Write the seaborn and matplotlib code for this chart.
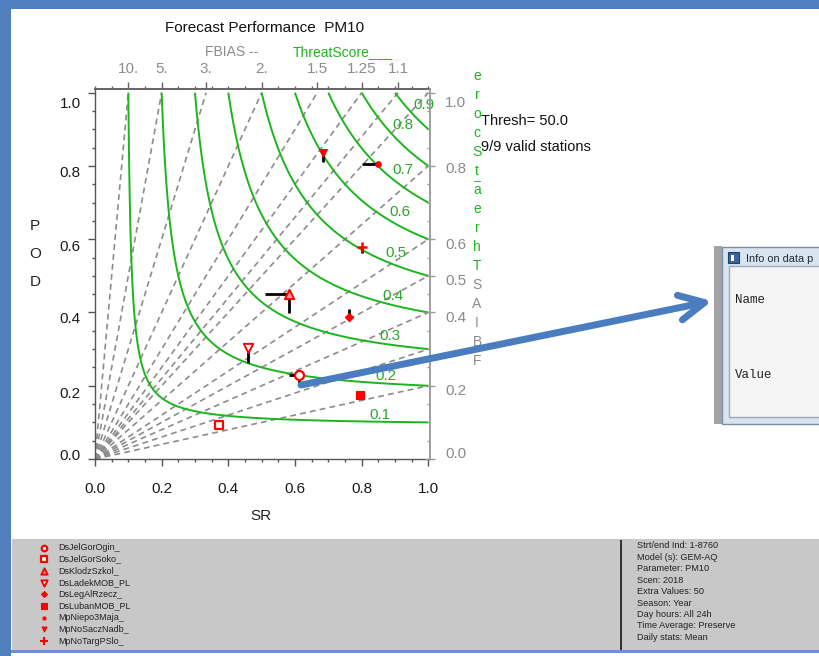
import numpy as np
import pandas as pd
import matplotlib
matplotlib.use("Agg")
import matplotlib.pyplot as plt
import seaborn as sns
from matplotlib.patches import Rectangle, FancyArrowPatch, ArrowStyle
from matplotlib.transforms import ScaledTranslation

sns.set_theme(style="white")
plt.rcParams['font.family'] = ['Liberation Sans', 'DejaVu Sans']

# ---------------- data ----------------
stations = ["DsJelGorOgin_", "DsJelGorSoko_", "DsKlodzSzkol_", "DsLadekMOB_PL",
            "DsLegAlRzecz_", "DsLubanMOB_PL", "MpNiepo3Maja_", "MpNoSaczNadb_",
            "MpNoTargPSlo_"]
sr = [0.613, 0.373, 0.583, 0.458, 0.761, 0.796, 0.849, 0.683, 0.801]
pod = [0.228, 0.093, 0.451, 0.302, 0.387, 0.175, 0.805, 0.835, 0.578]
# other ends of the black bars (None = no bar)
sr_bar_end = [0.581, None, 0.511, None, None, None, 0.800, None, None]
pod_bar_end = [0.198, None, 0.398, 0.261, 0.410, None, None, 0.810, 0.562]

csi_levels = [0.1, 0.2, 0.3, 0.4, 0.5, 0.6, 0.7, 0.8, 0.9]
csi_label_sr = [0.856, 0.874, 0.886, 0.895, 0.904, 0.916, 0.925, 0.925, 0.988]
csi_label_pod = [0.120, 0.227, 0.336, 0.445, 0.563, 0.675, 0.790, 0.913, 0.967]

bias_values = [0.2, 0.3, 0.4, 0.5, 0.6, 0.8, 1.0, 1.1, 1.25, 1.5, 2.0, 3.0, 5.0, 10.0]
top_bias_vals = [10.0, 5.0, 3.0, 2.0, 1.5, 1.25, 1.1]
top_bias_labels = ["10.", "5.", "3.", "2.", "1.5", "1.25", "1.1"]
right_bias_vals = [0.0, 0.2, 0.4, 0.5, 0.6, 0.8, 1.0]
right_bias_labels = ["0.0", "0.2", "0.4", "0.5", "0.6", "0.8", "1.0"]

info_lines = ["Strt/end Ind: 1-8760", "Model (s): GEM-AQ", "Parameter: PM10",
              "Scen: 2018", "Extra Values: 50", "Season: Year", "Day hours: All 24h",
              "Time Average: Preserve", "Daily stats: Mean"]

title = "Forecast Performance  PM10"
thresh_text = ["Thresh= 50.0", "9/9 valid stations"]

# marker styles per station: (marker, face, size_plot, size_legend, lw)
RED = "#ff0000"
marker_styles = {
    "DsJelGorOgin_": ("o", "white", 42, 16, 1.6),
    "DsJelGorSoko_": ("s", "white", 30, 16, 1.6),
    "DsKlodzSzkol_": ("^", "#ff9a9a", 45, 20, 1.4),
    "DsLadekMOB_PL": ("v", "white", 45, 20, 1.4),
    "DsLegAlRzecz_": ("D", RED, 18, 9, 0.8),
    "DsLubanMOB_PL": ("s", RED, 30, 14, 0.8),
    "MpNiepo3Maja_": ("o", RED, 16, 5, 0.8),
    "MpNoSaczNadb_": ("v", RED, 32, 12, 0.8),
    "MpNoTargPSlo_": ("+", RED, 60, 30, 1.8),
}

GREEN = "#1db51d"
GREEN_TXT = "#2aa62a"
GRAY = "#8c8c8c"
BLUE = "#4f7fbf"

# ---------------- figure ----------------
W, H = 819, 656
fig = plt.figure(figsize=(W / 100, H / 100), dpi=100)
fig.patch.set_facecolor("white")

bg = fig.add_axes([0, 0, 1, 1], zorder=-1)
bg.set_xlim(0, W)
bg.set_ylim(H, 0)
bg.axis("off")

# screenshot frame
bg.add_patch(Rectangle((0, 0), 11, H, color=BLUE, lw=0))
bg.add_patch(Rectangle((0, 0), W, 9, color=BLUE, lw=0))
bg.add_patch(Rectangle((12, 539), W - 12, 111, color="#c8c8c8", lw=0))
bg.add_patch(Rectangle((11, 650), W - 11, 2.5, color="#6d90c6", lw=0))
bg.add_patch(Rectangle((619.5, 540), 2, 110, color="#333333", lw=0))

# info dialog
bg.add_patch(Rectangle((714, 246), 8, 178, color="#a3a3a3", lw=0))
bg.add_patch(Rectangle((722, 247), 110, 177, facecolor="#d9e4f1", edgecolor="#7d8ea6", lw=1))
bg.add_patch(Rectangle((729, 266), 100, 151, facecolor="#f5f5f5", edgecolor="#a0aab8", lw=1))
bg.add_patch(Rectangle((728, 252), 11, 11, facecolor="#3b629e", edgecolor="#22406e", lw=0.8))
bg.add_patch(Rectangle((730.5, 254.5), 3, 6, facecolor="white", lw=0))
bg.text(746, 258.5, "Info on data p", fontsize=7.8, va="center", ha="left",
        color="#1e2a3a")
bg.text(735, 300, "Name", fontsize=9, va="center", ha="left", color="#222222",
        family=["Liberation Mono", "DejaVu Sans Mono"])
bg.text(735, 375, "Value", fontsize=9, va="center", ha="left", color="#222222",
        family=["Liberation Mono", "DejaVu Sans Mono"])

# texts
bg.text(265, 28, title, fontsize=11, ha="center", va="center", color="#111111")
bg.text(232, 52, "FBIAS --", fontsize=10, ha="center", va="center", color=GRAY)
bg.text(293, 52, "ThreatScore___", fontsize=10, ha="left", va="center", color=GREEN)
for i, ch in enumerate("POD"):
    bg.text(35, 226 + 28 * i, ch, fontsize=11, ha="center", va="center", color="#222222")
bg.text(261, 516, "SR", fontsize=11, ha="center", va="center", color="#222222")
for i, t in enumerate(thresh_text):
    bg.text(481, 121 + 26 * i, t, fontsize=10.5, ha="left", va="center", color="#111111")

side_green = "erocStaerhT"
side_gray = "SAIBF"
for i, ch in enumerate(side_green + side_gray):
    col = GREEN if i < len(side_green) else "#8a8a8a"
    bg.text(477, 76 + 19 * i, ch, fontsize=10, ha="center", va="center", color=col)
bg.text(477, 176, "_", fontsize=9, ha="center", va="center", color=GREEN)

# legend in panel
for i, name in enumerate(stations):
    y = 547.5 + 11.7 * i
    m, face, s_plot, s_leg, lw = marker_styles[name]
    if m == "+":
        sns.scatterplot(x=[44], y=[y], marker=m, s=s_leg, color=RED, linewidth=1.5, ax=bg, legend=False)
    else:
        sns.scatterplot(x=[44], y=[y], marker=m, s=s_leg, facecolor=face, edgecolor=RED,
                        linewidth=lw, ax=bg, legend=False)
    bg.text(58, y, name, fontsize=6.5, ha="left", va="center", color="#222222")
for i, t in enumerate(info_lines):
    bg.text(637, 546 + 11.4 * i, t, fontsize=6.6, ha="left", va="center", color="#222222")

# ---------------- main axes ----------------
ax = fig.add_axes([95 / W, 197 / H, 335 / W, 370 / H])
ax.set_facecolor("white")
ax.set_xlim(0, 1.005)
ax.set_ylim(0, 1.01)

# bias lines
for b in bias_values:
    xe = min(1.0, 1.0 / b)
    xs = np.linspace(0, xe, 50)
    ax.plot(xs, b * xs, color=GRAY, lw=1.2, dashes=(3.5, 2.5), zorder=1)

# threat score contours
g = np.linspace(0.0005, 1.0, 500)
SRg, PODg = np.meshgrid(g, g)
CSI = 1.0 / (1.0 / SRg + 1.0 / PODg - 1.0)
ax.contour(SRg, PODg, CSI, levels=csi_levels, colors=GREEN, linewidths=1.4, zorder=2)
for c, xs_, ys_ in zip(csi_levels, csi_label_sr, csi_label_pod):
    ax.text(xs_, ys_, f"{c:.1f}", fontsize=11, color=GREEN_TXT, ha="center", va="center", zorder=3)

# black bars
for i in range(len(stations)):
    if sr_bar_end[i] is not None:
        ax.plot([sr_bar_end[i], sr[i]], [pod[i], pod[i]], color="black", lw=2, zorder=4,
                solid_capstyle="butt")
    if pod_bar_end[i] is not None:
        ax.plot([sr[i], sr[i]], [pod[i], pod_bar_end[i]], color="black", lw=2, zorder=4,
                solid_capstyle="butt")

# station points
df = pd.DataFrame({"station": stations, "SR": sr, "POD": pod})
for _, row in df.iterrows():
    m, face, s_plot, s_leg, lw = marker_styles[row["station"]]
    if m == "+":
        sns.scatterplot(x=[row["SR"]], y=[row["POD"]], marker=m, s=s_plot, color=RED,
                        linewidth=lw, ax=ax, legend=False, zorder=5)
    else:
        sns.scatterplot(x=[row["SR"]], y=[row["POD"]], marker=m, s=s_plot, facecolor=face,
                        edgecolor=RED, linewidth=lw, ax=ax, legend=False, zorder=5)
ax.set_xlabel("")
ax.set_ylabel("")

# axes ticks
ax.set_xticks(np.arange(0, 1.01, 0.2))
ax.set_xticklabels([f"{v:.1f}" for v in np.arange(0, 1.01, 0.2)])
ax.set_xticks(np.arange(0, 1.001, 0.05), minor=True)
ax.set_yticks(np.arange(0, 1.01, 0.2))
ax.set_yticklabels([f"{v:.1f}" for v in np.arange(0, 1.01, 0.2)])
ax.set_yticks(np.arange(0, 1.001, 0.05), minor=True)
ax.tick_params(axis="x", which="major", direction="out", length=5, width=1, color="#555555",
               labelsize=11, labelcolor="#1a1a1a", pad=11.5, bottom=True)
ax.tick_params(axis="x", which="minor", direction="out", length=2.2, width=1, color="#555555", bottom=True)
ax.tick_params(axis="y", which="major", direction="out", length=5, width=1, color="#555555",
               labelsize=11, labelcolor="#1a1a1a", pad=5.3, left=True)
ax.tick_params(axis="y", which="minor", direction="out", length=2.2, width=1, color="#555555", left=True)
for sp in ["left", "bottom"]:
    ax.spines[sp].set_color("#555555")
    ax.spines[sp].set_linewidth(1)
ax.spines["top"].set_color("#666666")
ax.spines["right"].set_color("#a0a0a0")

# top (FBIAS) axis
axt = ax.twiny()
axt.set_xlim(ax.get_xlim())
axt.set_xticks([1.0 / b for b in top_bias_vals])
axt.set_xticklabels(top_bias_labels)
axt.set_xticks(np.arange(0, 1.001, 0.05), minor=True)
axt.tick_params(axis="x", which="major", direction="out", length=5, width=1, color="#666666",
                labelsize=11, labelcolor=GRAY, pad=4.7)
axt.tick_params(axis="x", which="minor", direction="out", length=2.5, width=1, color="#666666")
for sp in ["left", "bottom", "right"]:
    axt.spines[sp].set_visible(False)
axt.spines["top"].set_color("#666666")

# right (FBIAS) axis
axr = ax.twinx()
axr.set_ylim(ax.get_ylim())
axr.set_yticks(right_bias_vals)
axr.set_yticklabels(right_bias_labels)
axr.set_yticks(np.arange(0, 1.001, 0.05), minor=True)
axr.tick_params(axis="y", which="major", direction="inout", length=7, width=1, color="#999999",
                labelsize=11, labelcolor="#8a8a8a", pad=7.3)
axr.tick_params(axis="y", which="minor", direction="in", length=2.5, width=1, color="#999999")
for sp in ["left", "bottom", "top"]:
    axr.spines[sp].set_visible(False)
axr.spines["right"].set_color("#a0a0a0")

# label offsets (pixels downward), as in the reference rendering
left_off = [-5, 7, 5, 6, 6, 10]
for lab, d in zip(ax.get_yticklabels(), left_off):
    lab.set_transform(lab.get_transform() + ScaledTranslation(0, -d / 100, fig.dpi_scale_trans))
right_off = [-6, 4, 4, 4, 4, 2, 9]
for lab, d in zip(axr.get_yticklabels(), right_off):
    lab.set_transform(lab.get_transform() + ScaledTranslation(0, -d / 100, fig.dpi_scale_trans))

# blue arrow overlay
arrow = FancyArrowPatch(posA=(301, 385), posB=(712, 301), transform=bg.transData,
                        arrowstyle=ArrowStyle("->", head_length=18, head_width=9),
                        mutation_scale=1, color="#4a7cc0", lw=5, shrinkA=0, shrinkB=0,
                        capstyle="round", joinstyle="round", zorder=10)
fig.add_artist(arrow)

fig.savefig("out.png", dpi=100)
